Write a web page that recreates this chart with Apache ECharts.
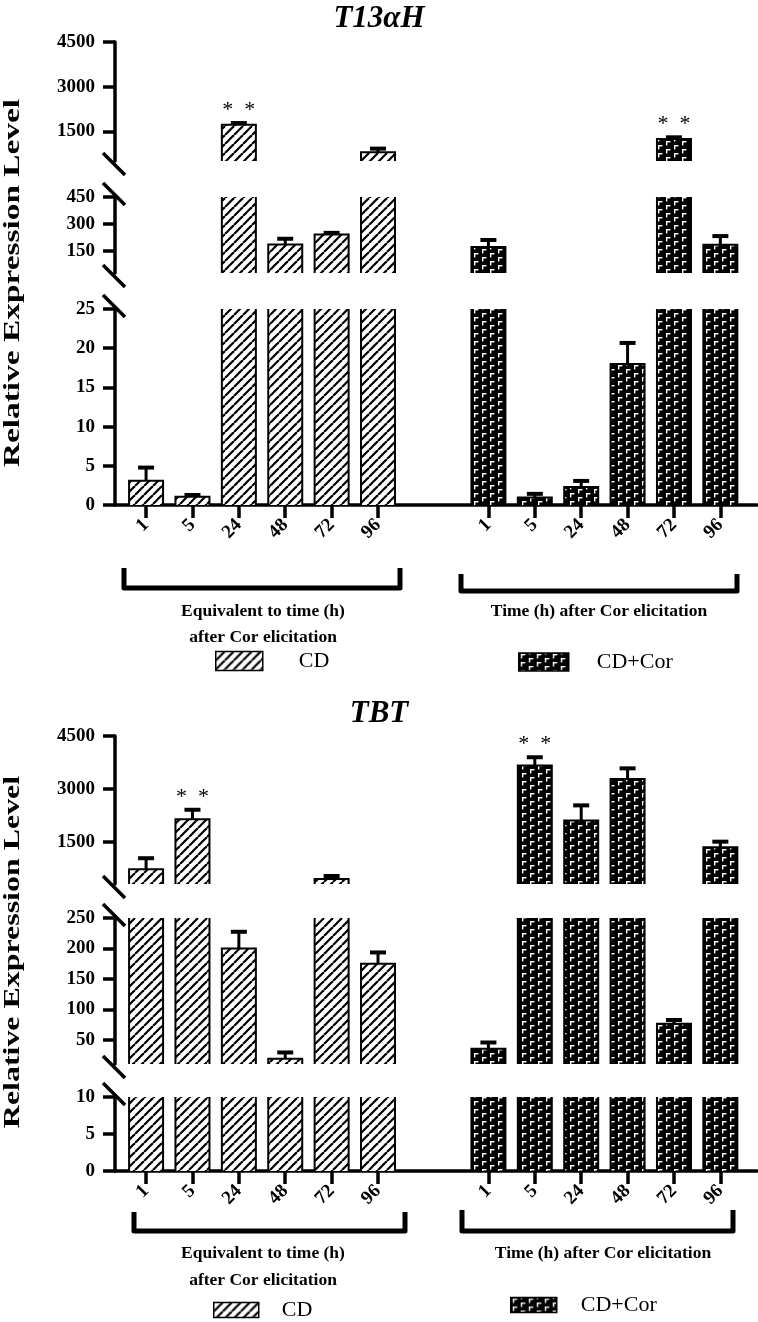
<!DOCTYPE html>
<html><head><meta charset="utf-8">
<script src="https://cdn.jsdelivr.net/npm/echarts@6/dist/echarts.min.js"></script>
<style>html,body{margin:0;padding:0;background:#fff}#c{width:758px;height:1322px}</style>
</head><body><div id="c"></div>
<script>
// ---------------- DATA ----------------
const timeLabels = ['1', '5', '24', '48', '72', '96'];
const seriesNames = ['CD', 'CD+Cor'];

const t13_cd      = [3.1, 1.05, 1720, 185, 240, 790];
const t13_cd_err  = [1.8, 0.35, 90, 37, 15, 160];
const t13_cd_sig  = ['', '', '*  *', '', '', ''];
const t13_cor     = [170, 0.95, 2.3, 18, 1240, 183];
const t13_cor_err = [45, 0.6, 0.9, 2.8, 90, 54];
const t13_cor_sig = ['', '', '', '', '*  *', ''];

const tbt_cd      = [720, 2140, 200, 18.6, 445, 175];
const tbt_cd_err  = [340, 295, 29, 12, 110, 20];
const tbt_cd_sig  = ['', '*  *', '', '', '', ''];
const tbt_cor     = [35, 3660, 2100, 3280, 76, 1340];
const tbt_cor_err = [12, 265, 460, 330, 8, 190];
const tbt_cor_sig = ['', '*  *', '', '', '', ''];

// broken y axis: ranges of the three segments (top, middle, bottom) and their tick labels
const t13_segments = [[500, 4500], [25, 450], [0, 25]];
const t13_ticks    = [[1500, 3000, 4500], [150, 300, 450], [0, 5, 10, 15, 20, 25]];
const tbt_segments = [[300, 4500], [10, 250], [0, 10]];
const tbt_ticks    = [[1500, 3000, 4500], [50, 100, 150, 200, 250], [0, 5, 10]];

const titles = ['T13\u03B1H', 'TBT'];
const yName = 'Relative Expression Level';
const groupLabelCD = ['Equivalent to time (h)', 'after Cor elicitation'];
const groupLabelCor = 'Time (h) after Cor elicitation';

// ---------------- LAYOUT ----------------
const FONT = '"Liberation Serif", "Times New Roman", serif';
const GROUP2_OFFSET = 7.38;
const X_MIN = -0.67, X_MAX = 13.17;
const GRID_LEFT = 115, GRID_W = 642;
const AXIS_X = 114;
const BAR_W = 34;
const layouts = [
  { boxes: [[42, 161], [197, 273], [309, 505]], titleTop: 3, nameY: 283, nameScale: 1.39,
    brackets: [[124, 568, 400, 588], [461, 574, 737, 591]],
    textY: [611, 637], textX: [263, 599],
    legend: [{left: 215, cy: 661, w: 47, h: 19, pad: 31}, {left: 518, cy: 662, w: 50, h: 18, pad: 23}] },
  { boxes: [[736, 884], [918, 1064], [1097, 1171]], titleTop: 698, nameY: 952, nameScale: 1.33,
    brackets: [[134, 1212, 405, 1231], [462, 1210, 733, 1231]],
    textY: [1253, 1280], textX: [263, 603],
    legend: [{left: 213, cy: 1310, w: 45, h: 15, pad: 18}, {left: 510, cy: 1305, w: 46, h: 15, pad: 19}] }
];

// ---------------- PATTERNS ----------------
function makeHatch() {
  const s = 9, c = document.createElement('canvas');
  c.width = s; c.height = s;
  const ctx = c.getContext('2d');
  ctx.fillStyle = '#fff'; ctx.fillRect(0, 0, s, s);
  ctx.strokeStyle = '#000'; ctx.lineWidth = 2.2;
  [-s, 0, s].forEach(k => { ctx.beginPath(); ctx.moveTo(k, s); ctx.lineTo(k + s, 0); ctx.stroke(); });
  return c;
}
function makeBrick() {
  const w = 16, h = 8, c = document.createElement('canvas');
  c.width = w; c.height = h;
  const ctx = c.getContext('2d');
  ctx.fillStyle = '#000'; ctx.fillRect(0, 0, w, h);
  ctx.fillStyle = '#fff';
  const gam = (x, y) => { ctx.fillRect(x, y, 4.5, 1.4); ctx.fillRect(x, y, 1.4, 4.5); };
  gam(2, 1); gam(10, 5); gam(10, -3);
  return c;
}
const hatch = { image: makeHatch(), repeat: 'repeat' };
const brick = { image: makeBrick(), repeat: 'repeat' };
const fills = [hatch, brick];

// ---------------- BUILD ----------------
const chartsData = [
  { vals: [t13_cd, t13_cor], errs: [t13_cd_err, t13_cor_err], sigs: [t13_cd_sig, t13_cor_sig], segs: t13_segments, ticks: t13_ticks },
  { vals: [tbt_cd, tbt_cor], errs: [tbt_cd_err, tbt_cor_err], sigs: [tbt_cd_sig, tbt_cor_sig], segs: tbt_segments, ticks: tbt_ticks }
];
const groupOffsets = [0, GROUP2_OFFSET];
const xPositions = timeLabels.map((_, i) => i).concat(timeLabels.map((_, i) => i + GROUP2_OFFSET));
const xLabelOf = v => {
  let best = 0;
  xPositions.forEach((p, k) => { if (Math.abs(p - v) < Math.abs(xPositions[best] - v)) best = k; });
  return timeLabels[best % timeLabels.length];
};

// bar drawn through the axis scales, cut at the segment edges without a border on the cut side
function makeBarRenderer(fill) {
  return (params, api) => {
    const x = api.value(0), v = api.value(1);
    const cs = params.coordSys;
    const pTop = api.coord([x, v]);
    const pBase = api.coord([x, 0]);
    const cTop = cs.y, cBot = cs.y + cs.height;
    if (pTop[1] >= cBot || pBase[1] <= cTop) return null;
    const topCut = pTop[1] < cTop;
    const y0 = Math.max(pTop[1], cTop), y1 = Math.min(pBase[1], cBot);
    const xl = pTop[0] - BAR_W / 2, xr = pTop[0] + BAR_W / 2;
    const pts = topCut ? null : [[xl, y1], [xl, y0], [xr, y0], [xr, y1]];
    const children = [
      { type: 'rect', shape: { x: xl, y: y0, width: BAR_W, height: y1 - y0 }, style: { fill: fill } }
    ];
    if (pts) {
      children.push({ type: 'polyline', shape: { points: pts }, style: { stroke: '#000', lineWidth: 2, fill: null } });
    } else {
      children.push({ type: 'line', shape: { x1: xl, y1: y0, x2: xl, y2: y1 }, style: { stroke: '#000', lineWidth: 2 } });
      children.push({ type: 'line', shape: { x1: xr, y1: y0, x2: xr, y2: y1 }, style: { stroke: '#000', lineWidth: 2 } });
    }
    return { type: 'group', children };
  };
}

const grid = [], xAxis = [], yAxis = [], series = [], graphic = [], title = [], legend = [];

chartsData.forEach((cdat, ci) => {
  const L = layouts[ci];
  title.push({ text: titles[ci], left: 'center', top: L.titleTop, padding: 0,
    textStyle: { fontFamily: FONT, fontStyle: 'italic', fontWeight: 'bold', fontSize: 31, color: '#000' } });

  cdat.segs.forEach((seg, si) => {
    const g = grid.length;
    const box = L.boxes[si];
    const isBottom = si === cdat.segs.length - 1;
    grid.push({ left: GRID_LEFT, width: GRID_W, top: box[0], height: box[1] - box[0], outerBoundsMode: 'none' });
    xAxis.push({
      gridIndex: g, type: 'value', min: X_MIN, max: X_MAX, show: isBottom,
      axisLine: { show: true, onZero: false, lineStyle: { color: '#000', width: 3.5 } },
      axisTick: { show: true, customValues: xPositions, length: 13, lineStyle: { color: '#000', width: 3.5 } },
      axisLabel: { customValues: xPositions, formatter: xLabelOf, rotate: 45, margin: 17,
        fontFamily: FONT, fontWeight: 'bold', fontSize: 19, color: '#000' },
      splitLine: { show: false }
    });
    yAxis.push({
      gridIndex: g, type: 'value', min: seg[0], max: seg[1],
      axisLine: { show: true, onZero: false, lineStyle: { color: '#000', width: 3.5 } },
      axisTick: { show: true, customValues: cdat.ticks[si], length: 12, lineStyle: { color: '#000', width: 3.5 } },
      axisLabel: { customValues: cdat.ticks[si], formatter: v => String(v), margin: 20,
        fontFamily: FONT, fontWeight: 'bold', fontSize: 19, color: '#000' },
      splitLine: { show: false }
    });
    seriesNames.forEach((nm, k) => {
      series.push({
        type: 'custom', name: nm, xAxisIndex: g, yAxisIndex: g, z: 2, silent: true,
        data: cdat.vals[k].map((v, i) => [i + groupOffsets[k], v]),
        itemStyle: { color: fills[k], borderColor: '#000', borderWidth: 1.5 },
        renderItem: makeBarRenderer(fills[k])
      });
    });
    // error bars for the bars whose top lies inside this segment
    const items = [];
    const inSeg = v => v >= seg[0] && v <= seg[1];
    seriesNames.forEach((nm, k) => {
      cdat.vals[k].forEach((v, i) => {
        if (inSeg(v)) items.push({ value: [i + groupOffsets[k], v, cdat.errs[k][i]], sig: cdat.sigs[k][i] });
      });
    });
    series.push({
      type: 'custom', xAxisIndex: g, yAxisIndex: g, z: 5, silent: true,
      data: items.map(d => d.value),
      renderItem: (params, api) => {
        const it = items[params.dataIndex];
        const x = api.value(0), m = api.value(1), e = api.value(2);
        const base = api.coord([x, m]);
        const top = api.coord([x, m + e]);
        const children = [
          { type: 'line', shape: { x1: base[0], y1: base[1], x2: top[0], y2: top[1] + 1 }, style: { stroke: '#000', lineWidth: 3 } },
          { type: 'rect', shape: { x: top[0] - 8, y: top[1] - 1, width: 16, height: 4 }, style: { fill: '#000' } }
        ];
        if (it.sig) children.push({ type: 'text', x: top[0], y: top[1] - 1,
          style: { text: it.sig, font: '22px ' + FONT, fill: '#000', align: 'center', verticalAlign: 'bottom',
                   textAlign: 'center', textVerticalAlign: 'bottom' } });
        return { type: 'group', children };
      }
    });
  });

  // axis break marks
  const b = L.boxes;
  [b[0][1] + 3, b[1][0] - 3, b[1][1] + 3, b[2][0] - 3].forEach(y => {
    graphic.push({ type: 'line', shape: { x1: AXIS_X - 11, y1: y - 11, x2: AXIS_X + 11, y2: y + 11 },
      style: { stroke: '#000', lineWidth: 3.5 }, silent: true });
  });
  // y axis name
  graphic.push({ type: 'text', x: 13, y: L.nameY, rotation: Math.PI / 2, scaleX: L.nameScale, silent: true,
    style: { text: yName, font: 'bold 24px ' + FONT, fill: '#000', align: 'center', verticalAlign: 'middle',
             textAlign: 'center', textVerticalAlign: 'middle' } });
  // group brackets
  L.brackets.forEach(br => {
    graphic.push({ type: 'polyline', silent: true,
      shape: { points: [[br[0], br[1]], [br[0], br[3]], [br[2], br[3]], [br[2], br[1]]] },
      style: { stroke: '#000', lineWidth: 5, fill: null, lineJoin: 'round' } });
  });
  // group captions
  const txt = (s, x, y) => ({ type: 'text', x, y, silent: true,
    style: { text: s, font: 'bold 17.5px ' + FONT, fill: '#000', align: 'center', verticalAlign: 'middle',
             textAlign: 'center', textVerticalAlign: 'middle' } });
  graphic.push(txt(groupLabelCD[0], L.textX[0], L.textY[0]));
  graphic.push(txt(groupLabelCD[1], L.textX[0], L.textY[1]));
  graphic.push(txt(groupLabelCor, L.textX[1], L.textY[0]));
  // legends
  seriesNames.forEach((nm, k) => {
    const lg = L.legend[k];
    legend.push({ data: [nm], left: lg.left, top: lg.cy - 12, icon: 'rect', itemWidth: lg.w, itemHeight: lg.h,
      selectedMode: false, padding: 0,
      itemStyle: { color: fills[k], borderColor: '#000', borderWidth: 1.5 },
      textStyle: { fontFamily: FONT, fontSize: 22, color: '#000', lineHeight: 24, padding: [0, 0, 0, lg.pad] } });
  });
});

const chart = echarts.init(document.getElementById('c'), null, { renderer: 'canvas' });
chart.setOption({
  animation: false, backgroundColor: '#fff',
  title, legend, grid, xAxis, yAxis, series, graphic
});
</script>
</body></html>
